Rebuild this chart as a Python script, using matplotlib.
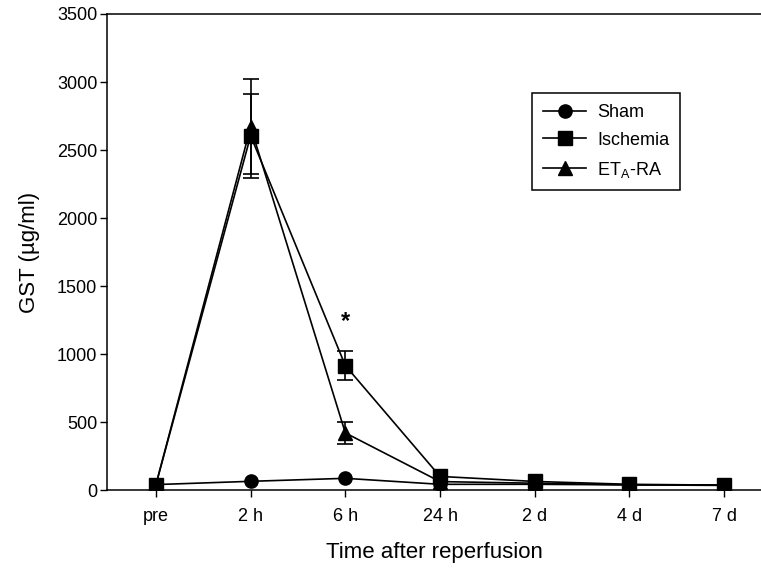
import matplotlib.pyplot as plt
import numpy as np

plt.rcParams['font.family'] = ['Liberation Sans', 'DejaVu Sans']
plt.rcParams['mathtext.fontset'] = 'custom'
plt.rcParams['mathtext.rm'] = 'Liberation Sans'

times = ['pre', '2 h', '6 h', '24 h', '2 d', '4 d', '7 d']
sham = [40, 64, 86, 42, 42, 38, 38]
ischemia = [40, 2605, 915, 100, 63, 42, 36]
ischemia_err = [0, 310, 107, 0, 0, 0, 0]
eta_ra = [40, 2670, 420, 62, 50, 38, 34]
eta_ra_err = [0, 350, 80, 0, 0, 0, 0]

x = np.arange(len(times))

fig = plt.figure(figsize=(7.61, 5.69), dpi=100)
ax = fig.add_axes([0.1406, 0.1388, 0.8594, 0.8366])

style = dict(color='black', linewidth=1.2, markersize=9.5)
ax.plot(x, sham, marker='o', label='Sham', **style)
ax.plot(x, ischemia, marker='s', label='Ischemia', **style)
ax.plot(x, eta_ra, marker='^', label=r'ET$_\mathrm{A}$-RA', **style)

for vals, err in [(ischemia, ischemia_err), (eta_ra, eta_ra_err)]:
    idx = [i for i, e in enumerate(err) if e > 0]
    ax.errorbar(x[idx], [vals[i] for i in idx], yerr=[err[i] for i in idx],
                fmt='none', ecolor='black', elinewidth=1.2, capsize=5.5,
                capthick=1.2)

ax.text(2, 1240, '*', ha='center', va='center', fontsize=17, fontweight='bold')

ax.set_xlim(-0.517, 6.39)
ax.set_ylim(0, 3500)
ax.set_yticks(np.arange(0, 3501, 500))
ax.set_xticks(x)
ax.set_xticklabels(times)
ax.tick_params(direction='out', length=5, width=1, labelsize=13, color='black')
ax.tick_params(axis='x', pad=8)
ax.tick_params(axis='y', pad=2)
ax.spines['right'].set_visible(False)
for s in ['left', 'bottom', 'top']:
    ax.spines[s].set_linewidth(1.1)

ax.set_xlabel('Time after reperfusion', fontsize=16, labelpad=12)
ax.set_ylabel('GST (µg/ml)', fontsize=16, labelpad=12)

leg = ax.legend(loc='upper left', bbox_to_anchor=(0.65, 0.834), borderaxespad=0,
                fontsize=13, fancybox=False, edgecolor='black', framealpha=1,
                borderpad=0.6, labelspacing=0.6, handlelength=2.4,
                handletextpad=0.6)
leg.get_frame().set_linewidth(1.1)

plt.savefig('out.png', dpi=100)
